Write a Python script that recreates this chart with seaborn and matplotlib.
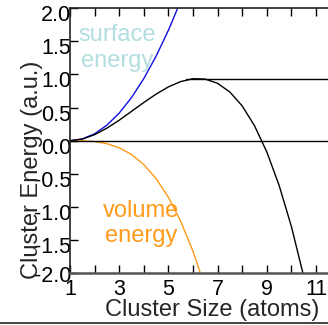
import numpy as np
import pandas as pd
import matplotlib
matplotlib.use("Agg")
import matplotlib.pyplot as plt
from matplotlib.lines import Line2D
from matplotlib.transforms import ScaledTranslation
import seaborn as sns

# ---- data ----
x_total = [1, 1.5, 2, 2.5, 3, 3.5, 4, 4.5, 5, 5.5, 6, 6.5, 7, 7.5, 8, 8.5, 9, 9.5, 10, 10.5, 11]
total_energy = [0, 0.024, 0.091, 0.189, 0.309, 0.442, 0.576, 0.702, 0.811, 0.891, 0.934, 0.928,
                0.865, 0.733, 0.524, 0.226, -0.169, -0.672, -1.294, -2.043, -2.93]
x_surface = [1, 1.5, 2, 2.5, 3, 3.5, 4, 4.5, 5, 5.5, 6]
surface_energy = [0, 0.026, 0.104, 0.234, 0.416, 0.65, 0.936, 1.274, 1.664, 2.106, 2.6]
x_volume = [1, 1.5, 2, 2.5, 3, 3.5, 4, 4.5, 5, 5.5, 6, 6.5, 7]
volume_energy = [0, -0.002, -0.013, -0.045, -0.107, -0.208, -0.36, -0.572, -0.853, -1.215,
                 -1.666, -2.218, -2.879]
barrier_level = 0.93
barrier_start = 5.7
zero_level = 0.0
x_ticks = [1, 2, 3, 4, 5, 6, 7, 8, 9, 10, 11, 12]
x_tick_labels = ["1", "", "3", "", "5", "", "7", "", "9", "", "11", ""]
y_ticks = [-2.0, -1.5, -1.0, -0.5, 0.0, 0.5, 1.0, 1.5, 2.0]
y_tick_labels = ["-2.0", "-1.5", "-1.0", "-0.5", "0.0", "0.5", "1.0", "1.5", "2.0"]

sns.set_style("ticks")
plt.rcParams['font.family'] = ['Liberation Sans', 'DejaVu Sans']

fig = plt.figure(figsize=(3.28, 3.25), dpi=100)
W, H = 328, 325
ax_left, ax_right, ax_top, ax_bottom = 70, 340.6, 8, 273.4
ax = fig.add_axes([ax_left / W, (H - ax_bottom) / H, (ax_right - ax_left) / W, (ax_bottom - ax_top) / H])

df_t = pd.DataFrame({"x": x_total, "y": total_energy})
df_s = pd.DataFrame({"x": x_surface, "y": surface_energy})
df_v = pd.DataFrame({"x": x_volume, "y": volume_energy})

sns.lineplot(data=df_s, x="x", y="y", ax=ax, color="#1010e0", lw=1.0, sort=False)
sns.lineplot(data=df_v, x="x", y="y", ax=ax, color="#ff9a1a", lw=1.0, sort=False)
sns.lineplot(data=df_t, x="x", y="y", ax=ax, color="black", lw=1.0, sort=False)

ax.axhline(zero_level, color="black", lw=1.0)
ax.plot([barrier_start, 12], [barrier_level, barrier_level], color="black", lw=1.0)

ax.set_xlim(1, 12)
ax.set_ylim(-2, 2)
ax.set_xticks(x_ticks)
ax.set_xticklabels(x_tick_labels)
ax.set_yticks(y_ticks)
ax.set_yticklabels(y_tick_labels)

ax.tick_params(direction="in", length=5.8, width=1.0, top=True, right=True,
               labelsize=15.5, colors="black")
ax.tick_params(axis="x", pad=4)
ax.tick_params(axis="y", pad=-1)

for side in ["left", "top", "right"]:
    ax.spines[side].set_linewidth(1.2)
    ax.spines[side].set_color("#222222")
ax.spines["bottom"].set_linewidth(1.8)
ax.spines["bottom"].set_color("#555555")

ax.set_xlabel("Cluster Size (atoms)", fontsize=17)
ax.set_ylabel("Cluster Energy (a.u.)", fontsize=17)
ax.xaxis.set_label_coords(0.527, -0.098)
ax.yaxis.set_label_coords(-0.10, 0.39)

ax.text(2.91, 1.40, "surface\nenergy", color="#b3dde0", fontsize=17, ha="center", va="center",
        linespacing=1.2)
ax.text(3.89, -1.25, "volume\nenergy", color="#ff9a1a", fontsize=17, ha="center", va="center",
        linespacing=1.2)

fig.add_artist(Line2D([0, 1], [2.5 / H, 2.5 / H], transform=fig.transFigure, color="#222222", lw=1.2))

for lab in ax.get_yticklabels():
    dy = 1 if lab.get_text() == "-2.0" else 5
    lab.set_transform(lab.get_transform() + ScaledTranslation(0, -dy / 100, fig.dpi_scale_trans))

fig.savefig("out.png", dpi=100)
